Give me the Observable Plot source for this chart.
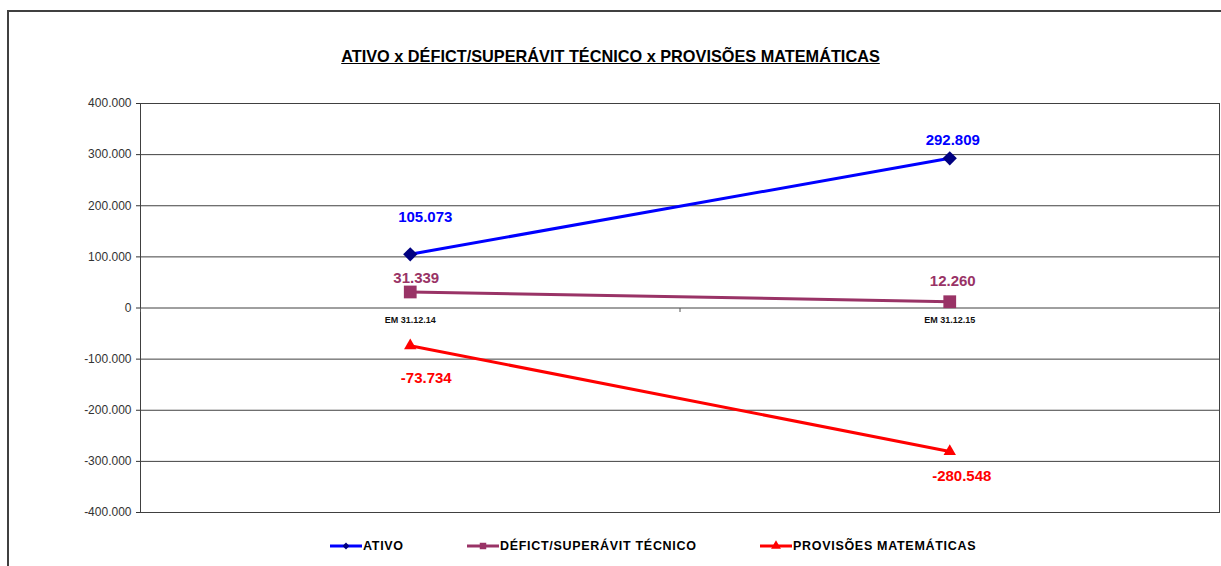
<!DOCTYPE html>
<html>
<head>
<meta charset="utf-8">
<script src="https://cdn.jsdelivr.net/npm/d3@7"></script>
<script src="https://cdn.jsdelivr.net/npm/@observablehq/plot@0.6"></script>
<style>
  html, body { margin: 0; padding: 0; background: #fff; width: 1221px; height: 566px; overflow: hidden; }
  body { position: relative; font-family: "Liberation Sans", Arial, sans-serif; }
  #frame { position: absolute; left: 7px; top: 10px; width: 1400px; height: 700px; border-top: 2px solid #404040; border-left: 2px solid #404040; }
  #title { position: absolute; left: 0; width: 1221px; top: 47px; text-align: center; font-weight: bold; font-size: 16.3px; text-decoration: underline; color: #000; }
  #chart { position: absolute; left: 0; top: 90px; }
  #legend { position: absolute; left: 0; top: 537px; width: 1221px; height: 20px; font-weight: bold; font-size: 12.5px; letter-spacing: 0.7px; color: #000; }
  .item { position: absolute; top: 0; display: flex; align-items: center; height: 18px; }
  .item svg { display: block; margin-right: 1px; }
</style>
</head>
<body>
<div id="frame"></div>
<div id="title">ATIVO x DÉFICT/SUPERÁVIT TÉCNICO x PROVISÕES MATEMÁTICAS</div>
<div id="chart"></div>
<div id="legend"></div>
<script>
// ---- data ----
const categories = ["EM 31.12.14", "EM 31.12.15"];
const seriesNames = ["ATIVO", "DÉFICT/SUPERÁVIT TÉCNICO", "PROVISÕES MATEMÁTICAS"];
const ativo = [105073, 292809];
const deficit = [31339, 12260];
const provisoes = [-73734, -280548];
const yTicks = [-400000, -300000, -200000, -100000, 0, 100000, 200000, 300000, 400000];

// ---- styling ----
const lineColors = ["#0000FF", "#993366", "#FF0000"];
const markerColors = ["#000080", "#993366", "#FF0000"];
const labelColors = ["#0000FF", "#993366", "#FF0000"];
const symbols = ["diamond2", "square", "triangle"];
const symbolR = [6.4, 7.2, 4.6];
// label offsets (dx, dy) per series, per category
const labelOffsets = [
  [[15, -37], [3, -18]],
  [[6, -14], [3, -21]],
  [[16, 32], [12, 25]]
];

const locale = d3.formatLocale({decimal: ",", thousands: ".", grouping: [3], currency: ["R$ ", ""], minus: "-"});
const fmt = locale.format(",");

const seriesValues = [ativo, deficit, provisoes];
const rows = [];
seriesNames.forEach((name, s) => {
  seriesValues[s].forEach((v, i) => rows.push({s, series: name, i, cat: categories[i], value: v}));
});

const tickSymbol = { draw(ctx, size) { ctx.moveTo(0, 0); ctx.lineTo(0, 4); } };

const marks = [
  Plot.ruleY(yTicks, {stroke: "#404040", strokeWidth: 1}),
  Plot.frame({stroke: "#404040", strokeWidth: 1}),
  Plot.axisY({ticks: yTicks, tickFormat: fmt, tickSize: 4, tickPadding: 5, label: null, fontSize: 12, color: "#333"}),
  Plot.dot([0, 1, 2], {x: d => d, y: () => 0, symbol: tickSymbol, stroke: "#555", strokeWidth: 1, r: 3}),
  Plot.text(categories, {x: (d, i) => i + 0.5, y: () => 0, text: d => d, dy: 12, fontSize: 9, fontWeight: "bold", fill: "#111"})
];

seriesNames.forEach((name, s) => {
  const data = rows.filter(r => r.s === s);
  marks.push(Plot.line(data, {x: d => d.i + 0.5, y: "value", stroke: lineColors[s], strokeWidth: 3}));
  marks.push(Plot.dot(data, {x: d => d.i + 0.5, y: "value", symbol: symbols[s], fill: markerColors[s], stroke: "none", r: symbolR[s]}));
  data.forEach(d => {
    const [dx, dy] = labelOffsets[s][d.i];
    marks.push(Plot.text([d], {x: r => r.i + 0.5, y: "value", text: r => fmt(r.value), dx, dy, fill: labelColors[s], fontSize: 15, fontWeight: "bold"}));
  });
});

const chart = Plot.plot({
  width: 1221,
  height: 435,
  marginLeft: 140,
  marginRight: 2,
  marginTop: 13,
  marginBottom: 13,
  style: {fontFamily: "'Liberation Sans', Arial, sans-serif", background: "transparent", overflow: "visible"},
  x: {type: "linear", domain: [0, 2], axis: null},
  y: {domain: [-400000, 400000], axis: null},
  marks
});
document.getElementById("chart").appendChild(chart);

// ---- legend ----
const legendPos = [330, 467, 760];
const legend = document.getElementById("legend");
seriesNames.forEach((name, s) => {
  const item = document.createElement("div");
  item.className = "item";
  item.style.left = legendPos[s] + "px";
  const svg = d3.create("svg").attr("width", 32).attr("height", 18);
  svg.append("line").attr("x1", 0).attr("x2", 32).attr("y1", 9).attr("y2", 9).attr("stroke", lineColors[s]).attr("stroke-width", 3);
  const sym = d3.symbol().type(s === 0 ? d3.symbolDiamond2 : s === 1 ? d3.symbolSquare : d3.symbolTriangle).size(s === 0 ? 30 : 42);
  svg.append("path").attr("d", sym()).attr("transform", "translate(16,9)").attr("fill", markerColors[s]);
  item.appendChild(svg.node());
  const span = document.createElement("span");
  span.textContent = name;
  item.appendChild(span);
  legend.appendChild(item);
});
</script>
</body>
</html>
